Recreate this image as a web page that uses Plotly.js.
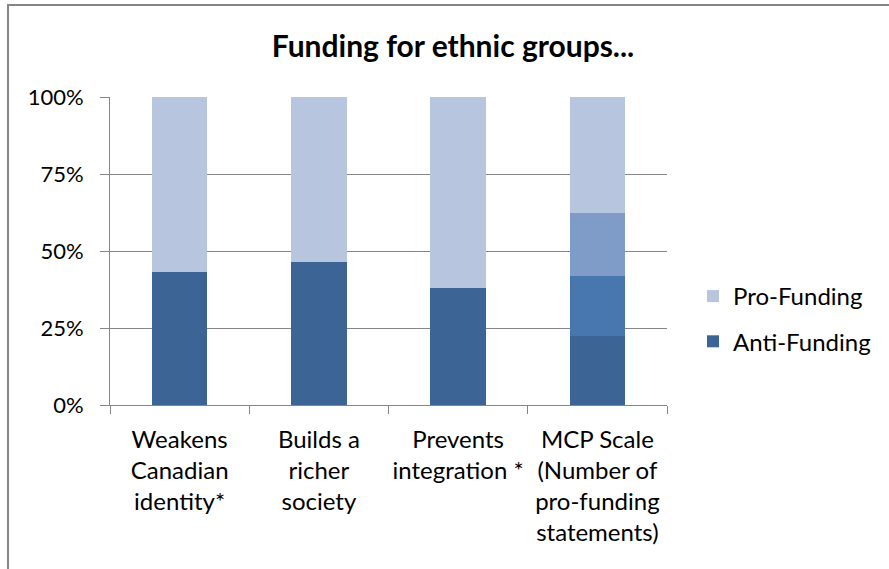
<!DOCTYPE html>
<html>
<head>
<meta charset="utf-8">
<script src="https://cdn.plot.ly/plotly-3.0.1.min.js"></script>
<style>
  html, body { margin: 0; padding: 0; background: #fff; overflow: hidden; }
  #chart { position: absolute; left: 0; top: 0; width: 889px; height: 569px; }
  #frame { position: absolute; left: 7px; top: 4px; width: 1000px; height: 1000px;
           border-left: 2px solid #868686; border-top: 2px solid #868686; pointer-events: none; }
</style>
</head>
<body>
<div id="chart"></div>
<div id="frame"></div>
<script>
const categories = [
  "Weakens<br>Canadian<br>identity*",
  "Builds a<br>richer<br>society",
  "Prevents<br>integration *",
  "MCP Scale<br>(Number of<br>pro-funding<br>statements)"
];
// Shares of respondents (fractions of 100%)
const antiFunding = [0.432, 0.464, 0.379, 0.224];
const mcpOneStatement = [null, null, null, 0.195];
const mcpTwoStatements = [null, null, null, 0.203];
const proFunding = [0.568, 0.536, 0.621, 0.378];
const yTicks = [0, 0.25, 0.5, 0.75, 1];
const yTickLabels = ["0%", "25%", "50%", "75%", "100%"];

const FONT = "Lato, 'Open Sans', sans-serif";

const traces = [
  { type: "bar", name: "Anti-Funding", x: categories, y: antiFunding,
    marker: { color: "#3C6494" }, legendgroup: "a", legendrank: 2, hoverinfo: "y" },
  { type: "bar", name: "1 statement", x: categories, y: mcpOneStatement,
    marker: { color: "#4876AE" }, showlegend: false, hoverinfo: "y" },
  { type: "bar", name: "2 statements", x: categories, y: mcpTwoStatements,
    marker: { color: "#7F9CC8" }, showlegend: false, hoverinfo: "y" },
  { type: "bar", name: "Pro-Funding", x: categories, y: proFunding,
    marker: { color: "#B7C5DE" }, legendgroup: "b", legendrank: 1, hoverinfo: "y" }
];

const layout = {
  width: 889, height: 569,
  margin: { l: 110, r: 222, t: 97, b: 164 },
  paper_bgcolor: "#ffffff", plot_bgcolor: "#ffffff",
  font: { family: FONT, size: 22, color: "#000" },
  barmode: "stack",
  bargap: 0.6,
  title: { text: "<b>Funding for ethnic groups...</b>", font: { family: FONT, size: 30, color: "#000" },
           x: 453 / 889, xref: "container", xanchor: "center",
           y: 1 - 46 / 569, yref: "container", yanchor: "middle" },
  xaxis: {
    type: "category",
    showgrid: false, showline: true, linecolor: "#868686", linewidth: 1,
    ticks: "outside", tickson: "boundaries", ticklen: 8, tickcolor: "#868686",
    tickangle: 0, automargin: false,
    ticklabelstandoff: 13,
    tickfont: { family: FONT, size: 24, color: "#000" },
    fixedrange: true
  },
  yaxis: {
    range: [0, 1], tickvals: yTicks, ticktext: yTickLabels,
    showgrid: true, gridcolor: "#868686", gridwidth: 1,
    showline: true, linecolor: "#868686", linewidth: 1,
    ticks: "outside", ticklen: 9, tickcolor: "#868686",
    ticklabelstandoff: 12,
    zeroline: false,
    tickfont: { family: FONT, size: 22, color: "#000" },
    fixedrange: true
  },
  legend: {
    x: 693 / 889, xref: "container", xanchor: "left",
    y: 1 - 319 / 569, yref: "container", yanchor: "middle",
    traceorder: "grouped", tracegroupgap: 11,
    font: { family: FONT, size: 24, color: "#000" },
    bgcolor: "rgba(0,0,0,0)"
  },
  showlegend: true
};

Plotly.newPlot("chart", traces, layout, { displayModeBar: false, staticPlot: true });
</script>
</body>
</html>
